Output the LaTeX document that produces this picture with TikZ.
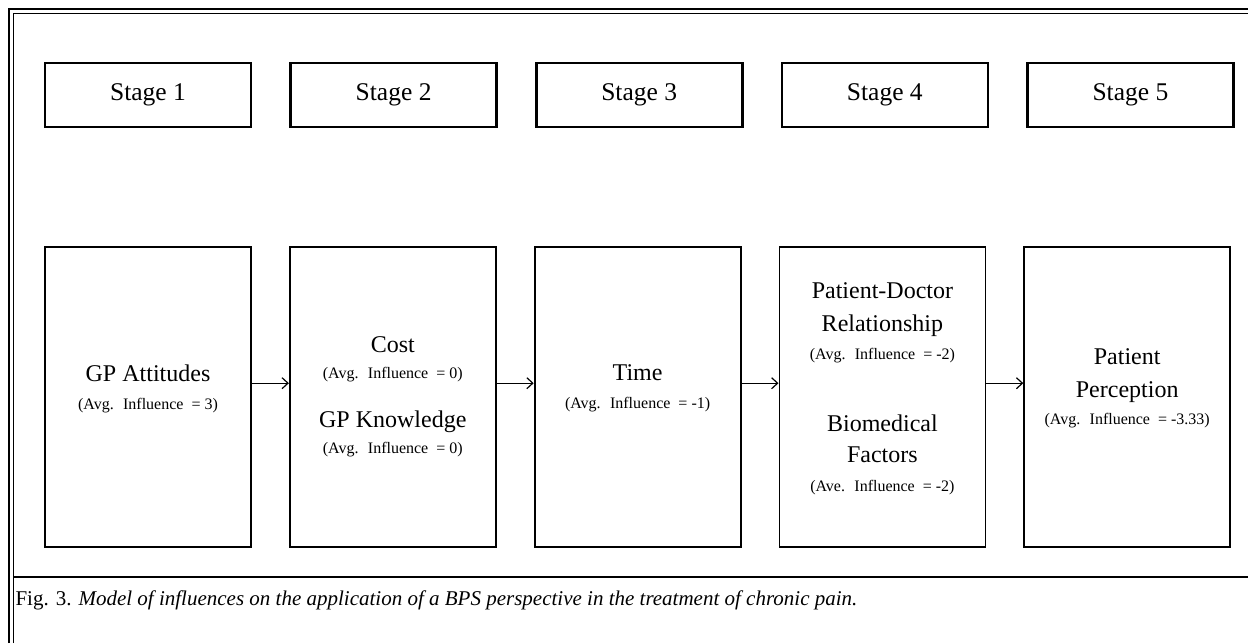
\documentclass[tikz,border=0pt]{standalone}
\usepackage{fontspec}
\setmainfont{Liberation Serif}
\usetikzlibrary{positioning, arrows.meta}
\tikzset{
  stagebox/.style={draw, line width=2.6pt, minimum width=206pt, minimum height=64pt, font=\fontsize{25.5}{30}\selectfont},
  factorbox/.style={draw, line width=1.8pt, minimum width=206pt, minimum height=300pt, align=center, font=\fontsize{24}{31}\selectfont},
  lift/.style={text depth=21pt},
  flow/.style={-{Straight Barb[length=6pt, width=11pt]}, line width=1.2pt},
}
\newcommand{\infl}[1]{{\fontsize{16}{31}\selectfont #1}}

\begin{document}
\begin{tikzpicture}[x=1pt, y=-1pt, node distance=37pt]
		\useasboundingbox (0,0) rectangle (1248,643);
		% frame
		\draw[line width=2.5pt] (9,643) |- (1248,9);
		\draw[line width=1pt] (13,643) |- (1248,13);
		\draw[line width=2pt] (13,577) -- (1248,577);

		\node[stagebox] (s1) at (148,95) {Stage 1};
		\node[stagebox, right=of s1] (s2) {Stage 2};
		\node[stagebox, right=of s2] (s3) {Stage 3};
		\node[stagebox, right=of s3] (s4) {Stage 4};
		\node[stagebox, right=of s4] (s5) {Stage 5};

		\node[factorbox, lift, below=118pt of s1] (f1) {GP Attitudes\\[-3pt] \infl{(Avg.~ Influence~ = 3)}};
		\node[factorbox, right=of f1] (f2) {Cost\\[-5pt] \infl{(Avg.~ Influence~ = 0)}\\[18pt] GP Knowledge\\[-5pt] \infl{(Avg.~ Influence~ = 0)}};
		\node[factorbox, lift, right=of f2] (f3) {Time\\[-3pt] \infl{(Avg.~ Influence~ = -1)}};
		\node[factorbox, lift, right=of f3] (f4) {Patient-Doctor\\[2pt] Relationship\\[-3pt] \infl{(Avg.~ Influence~ = -2)}\\[41pt] Biomedical\\ Factors\\[-2pt] \infl{(Ave.~ Influence~ = -2)}};
		\node[factorbox, lift, right=of f4] (f5) {Patient\\[2pt] Perception\\[-4pt] \infl{(Avg.~ Influence~ = -3.33)}};

		\draw[flow] ([yshift=14pt]f1.east) -- ([yshift=14pt]f2.west);
		\draw[flow] ([yshift=14pt]f2.east) -- ([yshift=14pt]f3.west);
		\draw[flow] ([yshift=14pt]f3.east) -- ([yshift=14pt]f4.west);
		\draw[flow] ([yshift=14pt]f4.east) -- ([yshift=14pt]f5.west);

		\node[anchor=west, font=\fontsize{21}{25}\selectfont] (cap) at (12,600) {Fig. 3. \textit{Model of influences on the application of a BPS perspective in the treatment of chronic pain.}};
	\end{tikzpicture}
\end{document}
